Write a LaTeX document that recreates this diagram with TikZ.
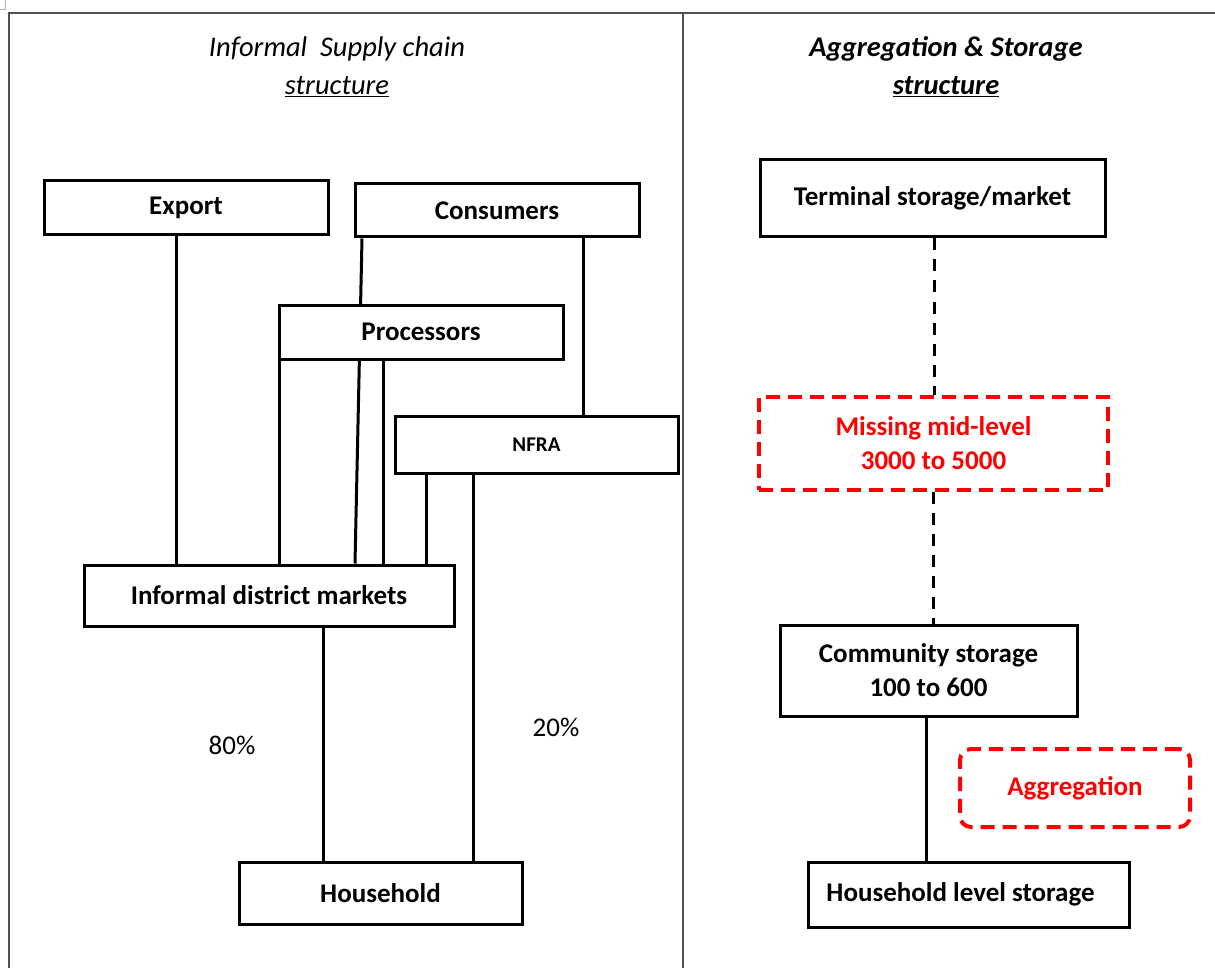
\documentclass[tikz,border=0pt]{standalone}
\usepackage{fontspec}
\setmainfont{Carlito}
\usetikzlibrary{backgrounds}

\definecolor{framegray}{RGB}{80,80,80}
\definecolor{missred}{RGB}{255,0,0}

\begin{document}
\begin{tikzpicture}[x=1pt, y=-1pt,
  box/.style={draw, line width=3pt, fill=white, inner sep=0pt,
    font=\fontsize{27}{34}\selectfont\bfseries, align=center},
  missbox/.style={box, draw=missred, text=missred, line width=4pt,
    dash pattern=on 14pt off 8pt},
  link/.style={line width=3pt},
  gaplink/.style={link, dash pattern=on 12pt off 9pt},
  titletext/.style={font=\fontsize{28.5}{38}\selectfont\itshape, align=center},
  share/.style={font=\fontsize{27}{32}\selectfont}]

\useasboundingbox (0,0) rectangle (1215,968);

%frame
\draw[gray!60, line width=1pt] (0,10) -- (5,10) -- (5,0);
\draw[framegray, line width=2pt] (9,968) -- (9,13) -- (1215,13);
\draw[framegray, line width=2pt] (683,13) -- (683,968);

%titles
\node[titletext] (lefttitle) at (337,67) {Informal~ Supply chain\\\underline{structure}};
\node[titletext, font=\fontsize{28.5}{38}\selectfont\itshape\bfseries] (righttitle) at (946,67) {Aggregation \& Storage\\\underline{structure}};

%supply chain boxes
\node[box, minimum width=284pt, minimum height=54pt] (export) at (186,208) {Export};
\node[box, minimum width=284pt, minimum height=53pt] (consumers) at (497,210.5) {Consumers};
\node[box, minimum width=284pt, minimum height=54pt] (processors) at (421,332) {Processors};
\node[box, minimum width=283pt, minimum height=57pt, font=\fontsize{21}{26}\selectfont\bfseries] (nfra) at (536.5,444.5) {NFRA};
\node[box, minimum width=370pt, minimum height=61pt] (idm) at (269,595.5) {Informal district markets};
\node[box, minimum width=283pt, minimum height=62pt] (household) at (380.5,893) {Household};

\node[share] (eighty) at (232,745) {80\%};
\node[share] (twenty) at (556,727) {20\%};

%storage boxes
\node[box, minimum width=345pt, minimum height=77pt] (terminal) at (932.5,198.5) {Terminal storage/market};
\node[missbox, minimum width=349pt, minimum height=93pt] (missing) at (933.5,443.5) {Missing mid-level\\3000 to 5000};
\node[box, minimum width=297pt, minimum height=91pt] (community) at (928.5,670.5) {Community storage\\100 to 600};
\node[missbox, rounded corners=11pt, minimum width=230pt, minimum height=78pt] (aggregation) at (1075,788) {Aggregation};
\node[box, minimum width=321pt, minimum height=65pt] (hls) at (968.5,894.5) {\hspace*{-16pt}Household level storage};

%links
\begin{scope}[on background layer]
\draw[link] ([xshift=-10pt]export.south) -- ([xshift=-10pt]export.south |- idm.north);
\draw[link] ([xshift=-135pt]consumers.south) -- ([xshift=86pt]idm.north);
\draw[link] ([xshift=86pt]consumers.south) -- ([xshift=86pt]consumers.south |- nfra.north);
\draw[link] ([xshift=1.5pt]processors.south west) -- ([xshift=1.5pt]processors.south west |- idm.north);
\draw[link] ([xshift=-38pt]processors.south) -- ([xshift=-38pt]processors.south |- idm.north);
\draw[link] ([xshift=-110.5pt]nfra.south) -- ([xshift=-110.5pt]nfra.south |- idm.north);
\draw[link] ([xshift=-63.5pt]nfra.south) -- ([xshift=-63.5pt]nfra.south |- household.north);
\draw[link] ([xshift=54pt]idm.south) -- ([xshift=54pt]idm.south |- household.north);
\draw[gaplink] ([xshift=1.5pt]terminal.south) -- ([xshift=1.5pt]terminal.south |- missing.north);
\draw[gaplink] (missing.south) -- (missing.south |- community.north);
\draw[link] ([xshift=-2.5pt]community.south) -- ([xshift=-2.5pt]community.south |- hls.north);
\end{scope}

\end{tikzpicture}
\end{document}
